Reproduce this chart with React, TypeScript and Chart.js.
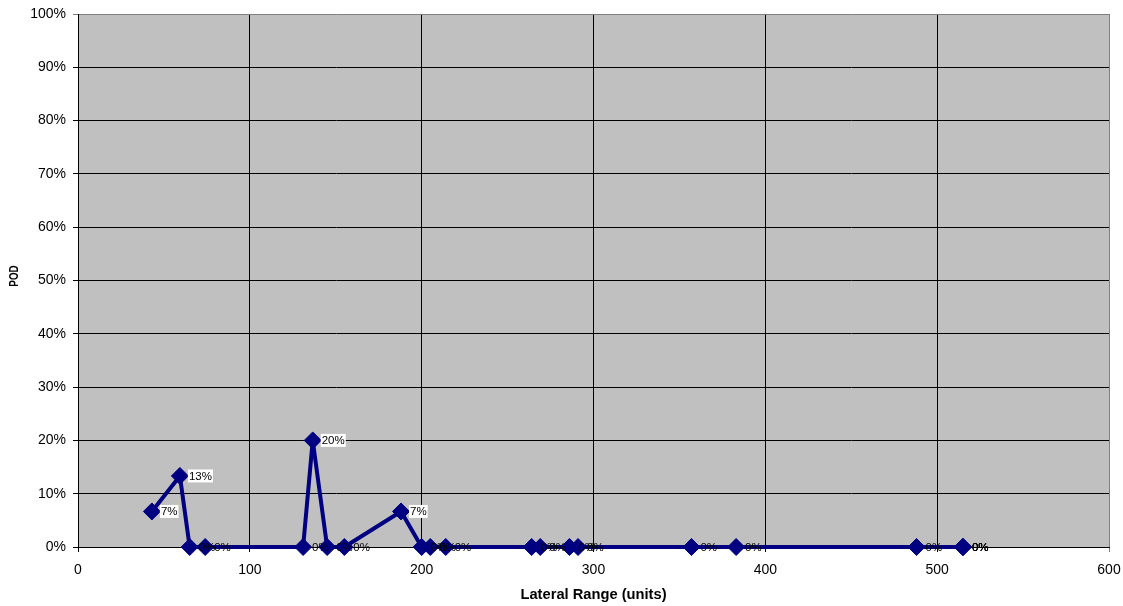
import React, { useEffect, useRef } from "react";
import { Chart, registerables } from "chart.js";

Chart.register(...registerables);

const rangeValues: number[] = [43, 59.3, 65, 74, 131, 136.6, 145, 155, 188, 200, 205, 214, 264, 269, 286, 291, 357, 383, 488, 515, 515, 515];
const podValues: number[] = [0.0667, 0.1333, 0, 0, 0, 0.2, 0, 0, 0.0667, 0, 0, 0, 0, 0, 0, 0, 0, 0, 0, 0, 0, 0];
const xTicks: number[] = [0, 100, 200, 300, 400, 500, 600];
const yTicks: number[] = [0, 0.1, 0.2, 0.3, 0.4, 0.5, 0.6, 0.7, 0.8, 0.9, 1];
const yTitle = "POD";
const xTitle = "Lateral Range (units)";

const FONT = "Arial, 'Liberation Sans', sans-serif";
const NAVY = "#000080";

const plotBg = {
  id: "plotBg",
  beforeDraw(chart: any) {
    const { ctx, chartArea } = chart;
    ctx.save();
    ctx.fillStyle = "#C0C0C0";
    ctx.fillRect(chartArea.left, chartArea.top, chartArea.right - chartArea.left, chartArea.bottom - chartArea.top);
    ctx.restore();
  },
};

const yTitlePlugin = {
  id: "yTitlePlugin",
  afterDraw(chart: any) {
    const { ctx } = chart;
    ctx.save();
    ctx.translate(14.5, 276);
    ctx.rotate(-Math.PI / 2);
    ctx.scale(0.76, 1);
    ctx.font = `bold 13px ${FONT}`;
    ctx.fillStyle = "#000000";
    ctx.textAlign = "center";
    ctx.textBaseline = "middle";
    ctx.fillText(yTitle, 0, 0);
    ctx.restore();
  },
};

const dataLabels = {
  id: "dataLabels",
  afterDatasetsDraw(chart: any) {
    const { ctx } = chart;
    const meta = chart.getDatasetMeta(0);
    const data = chart.data.datasets[0].data as any[];
    ctx.save();
    ctx.font = `11.5px ${FONT}`;
    ctx.textBaseline = "middle";
    ctx.textAlign = "left";
    meta.data.forEach((pt: any, i: number) => {
      const v = data[i].y;
      const txt = Math.round(v * 100) + "%";
      const x = pt.x + 9;
      const y = pt.y;
      const w = ctx.measureText(txt).width;
      if (v > 0) {
        ctx.fillStyle = "#FFFFFF";
        ctx.fillRect(x - 1, y - 6.5, w + 2, 13);
      }
      ctx.fillStyle = "#000000";
      ctx.fillText(txt, x, y + 0.5);
    });
    ctx.restore();
  },
};

export default function App() {
  const ref = useRef<HTMLCanvasElement>(null);
  useEffect(() => {
    if (!ref.current) return;
    const points = rangeValues.map((x, i) => ({ x, y: podValues[i] }));
    const chart = new Chart(ref.current, {
      type: "scatter",
      data: {
        datasets: [
          {
            data: points,
            showLine: true,
            borderColor: NAVY,
            borderWidth: 4,
            borderJoinStyle: "round",
            backgroundColor: NAVY,
            pointStyle: "rectRot",
            pointRadius: 8.5,
            pointBorderWidth: 1,
            pointBorderColor: NAVY,
            pointBackgroundColor: NAVY,
            clip: false as any,
          },
        ],
      },
      options: {
        animation: false,
        responsive: false,
        maintainAspectRatio: false,
        layout: { padding: { top: 14, right: 14, left: 0, bottom: 0 } },
        plugins: {
          legend: { display: false },
          tooltip: { enabled: false },
        },
        scales: {
          x: {
            type: "linear",
            min: 0,
            max: 600,
            afterBuildTicks: (s: any) => {
              s.ticks = xTicks.map((v) => ({ value: v }));
            },
            afterFit: (s: any) => {
              s.height = 59;
              s.paddingLeft = 0;
              s.paddingRight = 0;
            },
            grid: {
              color: (c: any) => (c.tick && c.tick.value === 600 ? "#808080" : "#000000"),
              lineWidth: 1,
              tickLength: 5,
              drawTicks: true,
            },
            border: { color: "#000000", width: 1 },
            ticks: {
              color: "#000000",
              font: { family: FONT, size: 14 },
              padding: 10,
              maxRotation: 0,
            },
            title: {
              display: true,
              text: xTitle,
              color: "#000000",
              font: { family: FONT, size: 14.7, weight: "bold" },
              padding: { top: 0, bottom: 2 },
            },
          },
          y: {
            type: "linear",
            min: 0,
            max: 1,
            afterBuildTicks: (s: any) => {
              s.ticks = yTicks.map((v) => ({ value: v }));
            },
            afterFit: (s: any) => {
              s.width = 78;
              s.paddingTop = 0;
              s.paddingBottom = 0;
            },
            grid: {
              color: (c: any) => (c.tick && c.tick.value === 1 ? "#808080" : "#000000"),
              lineWidth: 1,
              tickLength: 5,
            },
            border: { color: "#000000", width: 1 },
            ticks: {
              color: "#000000",
              font: { family: FONT, size: 14 },
              padding: 7,
              callback: (v: any) => Math.round(Number(v) * 100) + "%",
            },
            title: { display: false },
          },
        },
      },
      plugins: [plotBg, dataLabels, yTitlePlugin],
    });
    return () => chart.destroy();
  }, []);
  return (
    <div style={{ position: "absolute", left: 0, top: 0, width: 1123, height: 606, background: "#fff" }}>
      <canvas ref={ref} width={1123} height={606} style={{ width: 1123, height: 606, display: "block" }} />
    </div>
  );
}
